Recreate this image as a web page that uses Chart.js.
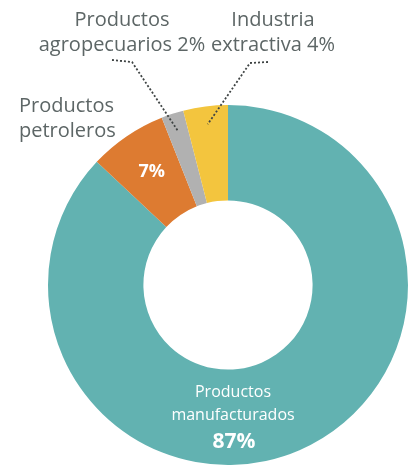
<!DOCTYPE html>
<html>
<head>
<meta charset="utf-8">
<script src="https://cdn.jsdelivr.net/npm/chart.js@4"></script>
<style>
  html, body { margin: 0; padding: 0; background: #fff; }
</style>
</head>
<body>
<canvas id="exportChart" width="410" height="466"></canvas>
<script>
// Export shares by sector (%)
const sectors = ['Productos manufacturados', 'Productos petroleros', 'Productos agropecuarios', 'Industria extractiva'];
const shares = [87, 7, 2, 4];
const sectorColors = ['#62b2b1', '#dd7b31', '#b1b1b1', '#f3c53e'];

const FONT = '"Open Sans", sans-serif';
const TEXT_GREY = '#5d6666';

// Draws the labels inside the ring and the callouts above it
const sectorLabels = {
  id: 'sectorLabels',
  afterDatasetsDraw(chart) {
    const ctx = chart.ctx;
    const arcs = chart.getDatasetMeta(0).data;
    const pct = i => shares[i] + '%';

    function pointOn(arc, frac, r) {
      const p = arc.getProps(['x', 'y', 'startAngle', 'endAngle']);
      const a = p.startAngle + (p.endAngle - p.startAngle) * frac;
      return { x: p.x + Math.cos(a) * r, y: p.y + Math.sin(a) * r };
    }

    ctx.save();
    ctx.textAlign = 'center';
    ctx.textBaseline = 'alphabetic';

    // big slice: label at the bottom of the ring
    const big = arcs[0].getProps(['x', 'y', 'innerRadius', 'outerRadius']);
    const midR = (big.innerRadius + big.outerRadius) / 2;
    ctx.fillStyle = '#ffffff';
    ctx.font = '16px ' + FONT;
    ctx.fillText('Productos', big.x + 5, big.y + midR - 20);
    ctx.fillText('manufacturados', big.x + 5, big.y + midR + 3);
    ctx.font = 'bold 21px ' + FONT;
    ctx.fillText(pct(0), big.x + 6, big.y + midR + 31);

    // petroleros value inside its slice
    const o = pointOn(arcs[1], 0.5, midR);
    ctx.font = 'bold 18px ' + FONT;
    ctx.textBaseline = 'middle';
    ctx.fillText(pct(1), o.x - 2, o.y - 4);

    // outside labels
    ctx.fillStyle = TEXT_GREY;
    ctx.font = '20px ' + FONT;
    ctx.textBaseline = 'alphabetic';
    ctx.fillText('Productos', 122, 26);
    ctx.fillText('agropecuarios ' + pct(2), 122, 51);
    ctx.fillText('Industria', 273, 26);
    ctx.fillText('extractiva ' + pct(3), 273, 51);
    ctx.textAlign = 'left';
    ctx.fillText('Productos', 19, 112);
    ctx.fillText('petroleros', 19, 137);

    // dotted leaders
    ctx.strokeStyle = '#3f4444';
    ctx.lineWidth = 1.8;
    ctx.setLineDash([2, 2]);
    const outerR = big.outerRadius;
    const g = pointOn(arcs[2], 0.5, outerR - 18);
    ctx.beginPath();
    ctx.moveTo(112, 60);
    ctx.lineTo(132, 62);
    ctx.lineTo(g.x, g.y);
    ctx.stroke();
    const yel = pointOn(arcs[3], 0.5, outerR - 18);
    ctx.beginPath();
    ctx.moveTo(268, 62);
    ctx.lineTo(250, 63);
    ctx.lineTo(yel.x, yel.y);
    ctx.stroke();
    ctx.restore();
  }
};

new Chart(document.getElementById('exportChart'), {
  type: 'doughnut',
  data: {
    labels: sectors,
    datasets: [{
      data: shares,
      backgroundColor: sectorColors,
      borderWidth: 0,
      hoverOffset: 0
    }]
  },
  options: {
    responsive: false,
    animation: false,
    devicePixelRatio: 1,
    cutout: '47%',
    rotation: 0,
    layout: { padding: { left: 48, right: 2, top: 105, bottom: 1 } },
    plugins: {
      legend: { display: false },
      tooltip: { enabled: false }
    }
  },
  plugins: [sectorLabels]
});
</script>
</body>
</html>
